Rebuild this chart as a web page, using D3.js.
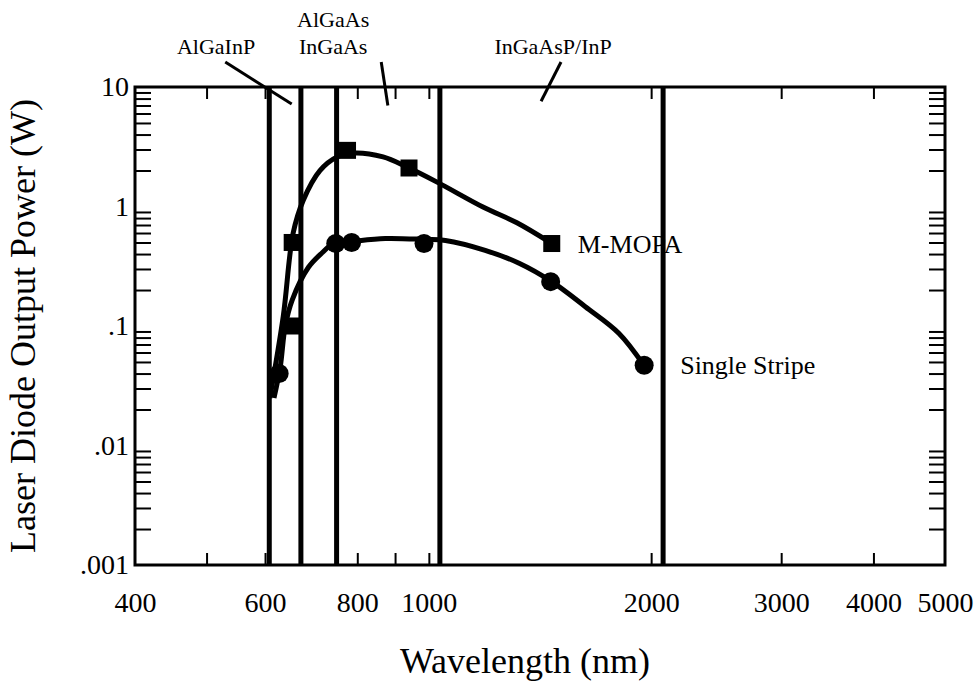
<!DOCTYPE html>
<html>
<head>
<meta charset="utf-8">
<script src="https://cdn.jsdelivr.net/npm/d3@7"></script>
<style>
  body { margin: 0; background: #fff; }
  svg { display: block; font-family: "Liberation Serif", "DejaVu Serif", serif; }
</style>
</head>
<body>
<div id="chart"></div>
<script>
// wavelength (nm) of the material band edges (thick vertical lines)
const bandEdges = [608, 671, 750, 1035, 2076];

// M-MOPA measured points
const mopaWave = [652, 653, 776, 940, 1467];
const mopaPower = [0.1, 0.5, 2.95, 2.1, 0.49];

// Single stripe measured points
const stripeWave = [627, 748, 786, 985, 1462, 1957];
const stripePower = [0.04, 0.49, 0.5, 0.49, 0.235, 0.047];

// hand drawn trend curves
const mopaCurveWave = [609, 635, 655, 676, 712, 751, 790, 867, 934, 1026, 1184, 1316, 1459];
const mopaCurvePower = [0.025, 0.12, 0.6, 1.13, 2.0, 2.6, 2.8, 2.6, 2.14, 1.6, 0.99, 0.73, 0.5];
const stripeCurveWave = [617, 629, 639, 653, 687, 717, 743, 787, 873, 989, 1053, 1192, 1325, 1467, 1629, 1808, 1955];
const stripeCurvePower = [0.025, 0.045, 0.1, 0.165, 0.31, 0.41, 0.49, 0.51, 0.54, 0.53, 0.52, 0.43, 0.335, 0.235, 0.145, 0.087, 0.047];

// axis ticks
const xTickMarks = [500, 600, 800, 900, 1000, 2000, 3000, 4000];
const xTickLabels = [400, 600, 800, 1000, 2000, 3000, 4000, 5000];
const yTickLabels = [10, 1, 0.1, 0.01, 0.001];
const yTickText = ["10", "1", ".1", ".01", ".001"];

// material region labels and their leader lines (wavelength, power)
const matLabels = [
    { text: ["AlGaInP"], wave: 515, power: 19 },
    { text: ["AlGaAs", "InGaAs"], wave: 742, power: 32 },
    { text: ["InGaAsP/InP"], wave: 1473, power: 19 }
];
const leaders = [
    { from: [530, 16.2], to: [652, 7.2] },
    { from: [862, 16.2], to: [880, 7.0] },
    { from: [1510, 16.2], to: [1419, 7.6] }
];

const margin = { top: 87, right: 31, bottom: 122, left: 135 };
const width = 976;
const height = 687;
const innerWidth = width - margin.left - margin.right;
const innerHeight = height - margin.top - margin.bottom;

const svg = d3.select("#chart")
    .append("svg")
    .attr("width", width)
    .attr("height", height);

const g = svg.append("g")
    .attr("transform", `translate(${margin.left},${margin.top})`);

const x = d3.scaleLog()
    .domain([400, 5000])
    .range([0, innerWidth]);

const y = d3.scaleLog()
    .domain([0.001, 10])
    .range([innerHeight, 0]);

const yMinor = y.ticks().filter(v => Math.abs(Math.log10(v) - Math.round(Math.log10(v))) > 1e-6);

// tick marks on all four sides, pointing inward
const tickStyle = sel => {
    sel.select(".domain").remove();
    sel.selectAll("line").attr("stroke", "#000").attr("stroke-width", 2);
    sel.selectAll("text").remove();
};

g.append("g")
    .attr("transform", `translate(0,${innerHeight})`)
    .call(d3.axisBottom(x).tickValues(xTickMarks).tickSize(-12))
    .call(tickStyle);

g.append("g")
    .call(d3.axisTop(x).tickValues(xTickMarks).tickSize(-12))
    .call(tickStyle);

g.append("g")
    .call(d3.axisLeft(y).tickValues(yMinor).tickSize(-16))
    .call(tickStyle);

g.append("g")
    .attr("transform", `translate(${innerWidth},0)`)
    .call(d3.axisRight(y).tickValues(yMinor).tickSize(-16))
    .call(tickStyle);

// tick labels
const xLab = g.append("g")
    .attr("transform", `translate(0,${innerHeight})`)
    .call(d3.axisBottom(x).tickValues(xTickLabels).tickSize(0).tickPadding(27).tickFormat(d3.format("d")));
xLab.select(".domain").remove();
xLab.selectAll("text")
    .attr("font-family", "Liberation Serif")
    .attr("font-size", 28)
    .attr("fill", "#000");

const yLab = g.append("g")
    .call(d3.axisLeft(y).tickValues(yTickLabels).tickSize(0).tickPadding(6)
        .tickFormat((d, i) => yTickText[i]));
yLab.select(".domain").remove();
yLab.selectAll("text")
    .attr("font-family", "Liberation Serif")
    .attr("font-size", 28)
    .attr("fill", "#000");

// band edge lines
g.selectAll(".band")
    .data(bandEdges)
    .join("line")
    .attr("class", "band")
    .attr("x1", d => x(d))
    .attr("x2", d => x(d))
    .attr("y1", 0)
    .attr("y2", innerHeight)
    .attr("stroke", "#000")
    .attr("stroke-width", 5);

// frame
g.append("rect")
    .attr("width", innerWidth)
    .attr("height", innerHeight)
    .attr("fill", "none")
    .attr("stroke", "#000")
    .attr("stroke-width", 3);

// curves
const line = d3.line()
    .x(d => x(d[0]))
    .y(d => y(d[1]))
    .curve(d3.curveCatmullRom.alpha(0.5));

const mopaCurve = d3.zip(mopaCurveWave, mopaCurvePower);
const stripeCurve = d3.zip(stripeCurveWave, stripeCurvePower);

[mopaCurve, stripeCurve].forEach(c => {
    g.append("path")
        .datum(c)
        .attr("d", line)
        .attr("fill", "none")
        .attr("stroke", "#000")
        .attr("stroke-width", 5)
        .attr("stroke-linejoin", "round");
});

// markers
const sq = 17;
g.selectAll(".mopa")
    .data(d3.zip(mopaWave, mopaPower))
    .join("rect")
    .attr("class", "mopa")
    .attr("x", d => x(d[0]) - sq / 2)
    .attr("y", d => y(d[1]) - sq / 2)
    .attr("width", sq)
    .attr("height", sq)
    .attr("fill", "#000");

g.selectAll(".stripe")
    .data(d3.zip(stripeWave, stripePower))
    .join("circle")
    .attr("class", "stripe")
    .attr("cx", d => x(d[0]))
    .attr("cy", d => y(d[1]))
    .attr("r", 9.5)
    .attr("fill", "#000");

// series labels
g.append("text")
    .attr("x", x(1467) + 26)
    .attr("y", y(0.49))
    .attr("dy", "0.35em")
    .attr("font-size", 26)
    .text("M-MOPA");

g.append("text")
    .attr("x", x(1957) + 36)
    .attr("y", y(0.047))
    .attr("dy", "0.35em")
    .attr("font-size", 26)
    .text("Single Stripe");

// material labels above the frame, with leader lines
matLabels.forEach(m => {
    const t = g.append("text")
        .attr("x", x(m.wave))
        .attr("y", y(m.power))
        .attr("text-anchor", "middle")
        .attr("font-size", 22);
    m.text.forEach((s, i) => {
        t.append("tspan")
            .attr("x", x(m.wave))
            .attr("dy", i === 0 ? 0 : 27)
            .text(s);
    });
});

g.selectAll(".leader")
    .data(leaders)
    .join("line")
    .attr("class", "leader")
    .attr("x1", d => x(d.from[0]))
    .attr("y1", d => y(d.from[1]))
    .attr("x2", d => x(d.to[0]))
    .attr("y2", d => y(d.to[1]))
    .attr("stroke", "#000")
    .attr("stroke-width", 3);

// axis titles
svg.append("text")
    .attr("x", 525)
    .attr("y", 673)
    .attr("text-anchor", "middle")
    .attr("font-size", 36)
    .text("Wavelength (nm)");

svg.append("text")
    .attr("transform", `translate(35, ${margin.top + innerHeight / 2}) rotate(-90)`)
    .attr("text-anchor", "middle")
    .attr("font-size", 36)
    .text("Laser Diode Output Power (W)");
</script>
</body>
</html>
